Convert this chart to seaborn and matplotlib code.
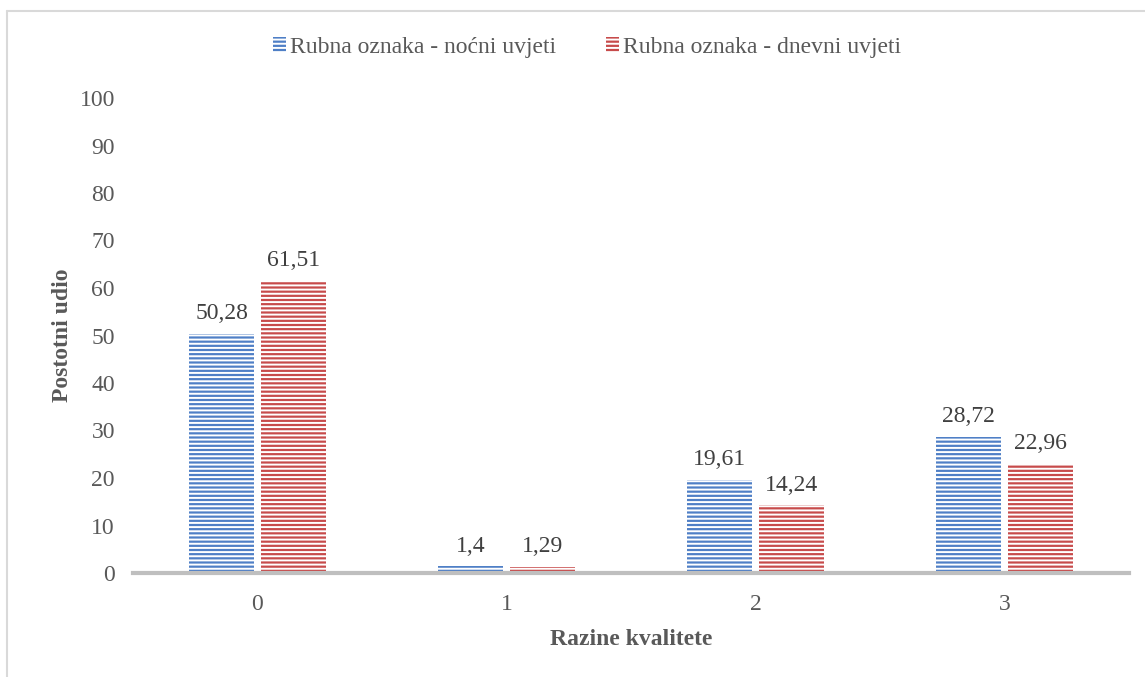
import pandas as pd
import seaborn as sns
import matplotlib.pyplot as plt
from matplotlib.lines import Line2D
from matplotlib.patches import Patch

# Data
levels = ['0', '1', '2', '3']
night = [50.28, 1.4, 19.61, 28.72]
day = [61.51, 1.29, 14.24, 22.96]
series_names = ['Rubna oznaka - noćni uvjeti', 'Rubna oznaka - dnevni uvjeti']
y_ticks = [0, 10, 20, 30, 40, 50, 60, 70, 80, 90, 100]

df = pd.DataFrame({
    'level': levels * 2,
    'value': night + day,
    'series': [series_names[0]] * 4 + [series_names[1]] * 4,
})

sns.set_theme(style='white')
plt.rcParams['font.family'] = ['Liberation Serif', 'DejaVu Serif']
plt.rcParams['hatch.linewidth'] = 1.4
text_col = '#595959'
colors = ['#4F7FC6', '#C74B4B']
fs = 17

fig = plt.figure(figsize=(11.45, 6.77), dpi=100)
ax = fig.add_axes([133 / 1145, 104 / 677, 996 / 1145, 475 / 677])

sns.barplot(data=df, x='level', y='value', hue='series', palette=colors,
            width=0.578, gap=0.1, ax=ax, legend=False, saturation=1)

for bars in ax.containers:
    for b in bars:
        b.set_hatch('----')
        b.set_edgecolor('white')
        b.set_linewidth(0)
    ax.bar_label(bars, labels=[f'{v:g}'.replace('.', ',') for v in bars.datavalues],
                 padding=7, fontsize=fs, color='#404040')

ax.set_ylim(0, 100)
ax.set_yticks(y_ticks)
ax.tick_params(axis='both', length=0, labelsize=fs, labelcolor=text_col)
ax.tick_params(axis='y', pad=13)
ax.tick_params(axis='x', pad=15)
for s in ['left', 'right', 'top']:
    ax.spines[s].set_visible(False)
ax.spines['bottom'].set_color('#BFBFBF')
ax.spines['bottom'].set_linewidth(3)
ax.set_ylabel('Postotni udio', fontsize=fs, fontweight='bold', color=text_col, labelpad=5)
ax.set_xlabel('Razine kvalitete', fontsize=fs, fontweight='bold', color=text_col, labelpad=10)

handles = [Patch(facecolor=c, edgecolor='white', hatch='----', linewidth=0) for c in colors]
fig.legend(handles, series_names, loc='center', bbox_to_anchor=(587 / 1145, 1 - 47 / 677),
           ncol=2, frameon=False, fontsize=fs, labelcolor=text_col,
           handlelength=0.55, handleheight=0.6, handletextpad=0.17, columnspacing=2.1)

# chart area border
fig.add_artist(Line2D([7 / 1145, 1.0], [1 - 11 / 677, 1 - 11 / 677], color='#D9D9D9', lw=1.5))
fig.add_artist(Line2D([7 / 1145, 7 / 1145], [0, 1 - 11 / 677], color='#D9D9D9', lw=1.5))

fig.savefig('out.png', dpi=100)
